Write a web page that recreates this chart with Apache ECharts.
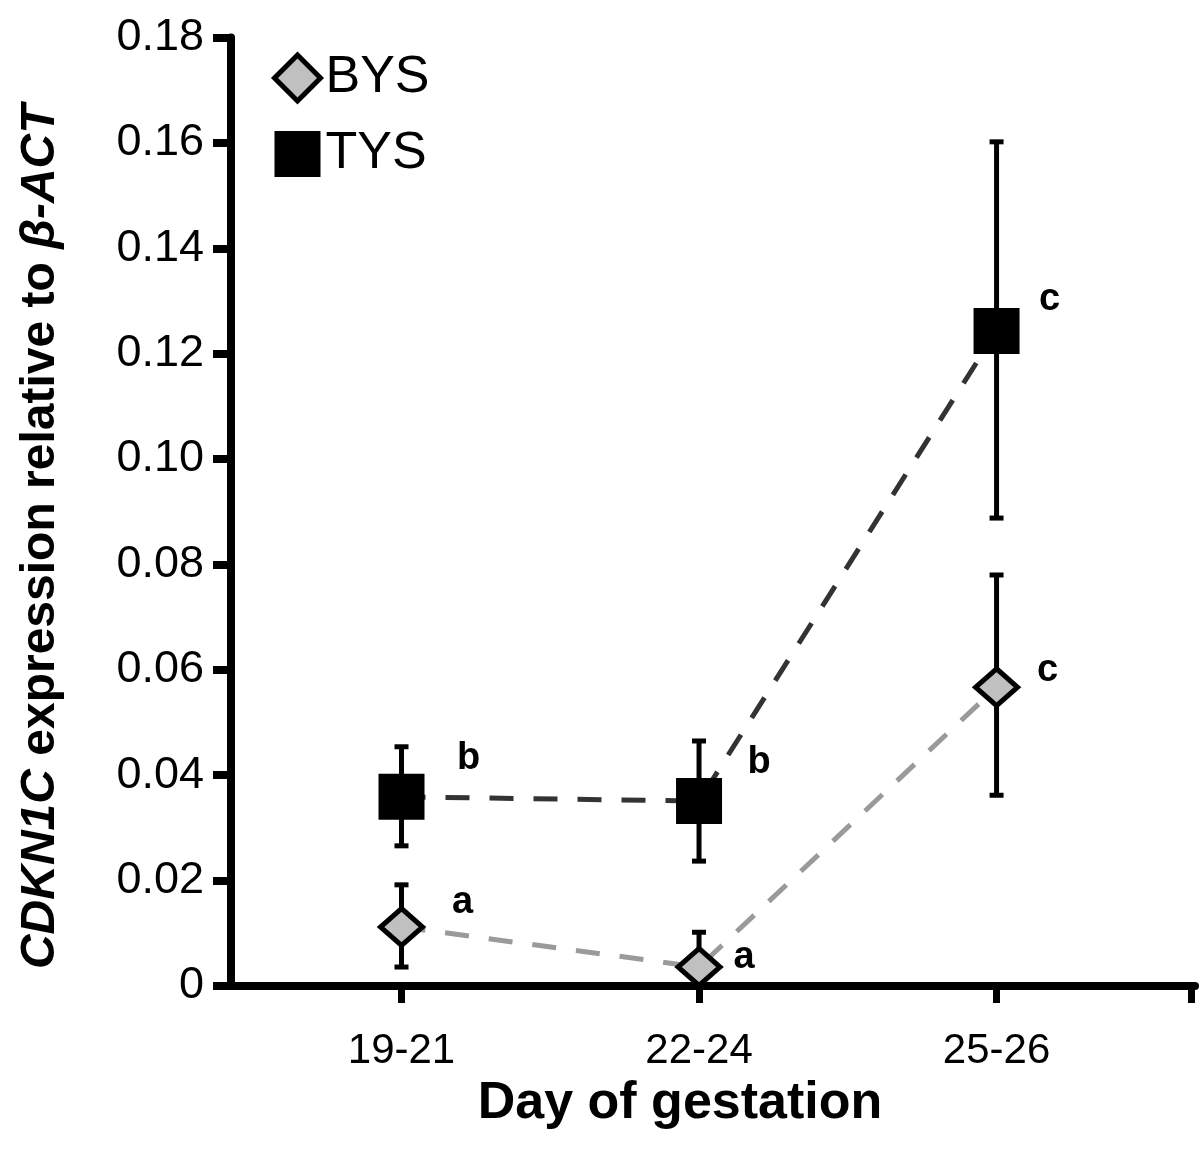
<!DOCTYPE html>
<html>
<head>
<meta charset="utf-8">
<script src="https://cdn.jsdelivr.net/npm/echarts@6/dist/echarts.min.js"></script>
<style>html,body{margin:0;padding:0;background:#fff;}#c{width:1200px;height:1150px;}</style>
</head>
<body>
<div id="c"></div>
<script>
const categories = ['19-21', '22-24', '25-26'];
const xPos = [1, 2, 3];
const bysMean = [0.0112, 0.0036, 0.0567];
const bysLow = [0.0036, 0.0000, 0.0362];
const bysHigh = [0.0192, 0.0102, 0.0780];
const tysMean = [0.0359, 0.0351, 0.1243];
const tysLow = [0.0266, 0.0237, 0.0888];
const tysHigh = [0.0454, 0.0465, 0.1602];
const bysLetters = ['a', 'a', 'c'];
const tysLetters = ['b', 'b', 'c'];

const FONT = 'Liberation Sans, Arial, sans-serif';
const bysOffsets = [[61, -24], [45, -10], [51, -17]];
const tysOffsets = [[67, -38], [60, -39], [53, -31]];

function pointData(means, letters, offsets) {
  return means.map((m, i) => ({
    value: [xPos[i], m],
    label: {
      show: true, formatter: letters[i], position: 'inside', offset: offsets[i],
      fontSize: 38, fontWeight: 'bold', color: '#000', fontFamily: FONT
    }
  }));
}
function barData(lows, highs) {
  return lows.map((l, i) => [xPos[i], l, highs[i]]);
}
function renderErr(params, api) {
  const x = api.value(0), lo = api.value(1), hi = api.value(2);
  const pLo = api.coord([x, lo]), pHi = api.coord([x, hi]);
  const hw = 7;
  const st = { stroke: '#000', lineWidth: 5 };
  return {
    type: 'group',
    children: [
      { type: 'line', shape: { x1: pLo[0], y1: pLo[1], x2: pHi[0], y2: pHi[1] }, style: st },
      { type: 'line', shape: { x1: pHi[0] - hw, y1: pHi[1], x2: pHi[0] + hw, y2: pHi[1] }, style: st },
      { type: 'line', shape: { x1: pLo[0] - hw, y1: pLo[1], x2: pLo[0] + hw, y2: pLo[1] }, style: st }
    ]
  };
}

const chart = echarts.init(document.getElementById('c'), null, { renderer: 'canvas' });
chart.setOption({
  animation: false,
  backgroundColor: '#fff',
  grid: { left: 231, right: 5, top: 37.5, bottom: 164, containLabel: false },
  legend: {
    left: 272, top: 52, orient: 'vertical', padding: 0,
    itemWidth: 46, itemHeight: 46, itemGap: 24, itemTextGap: 16,
    textStyle: { fontSize: 52, fontFamily: FONT, color: '#000' },
    selectedMode: false,
    data: [
      { name: 'BYS', icon: 'diamond', itemStyle: { color: '#c0c0c0', borderColor: '#000', borderWidth: 5 } },
      { name: 'TYS', icon: 'rect', itemStyle: { color: '#000', borderWidth: 0 } }
    ]
  },
  xAxis: {
    type: 'value', min: 0.4269, max: 3.667,
    splitLine: { show: false },
    axisLine: { onZero: false, lineStyle: { color: '#000', width: 8 } },
    axisTick: { show: true, length: 17, customValues: [1, 2, 3, 3.655], lineStyle: { color: '#000', width: 7 } },
    axisLabel: {
      customValues: [1, 2, 3], margin: 44, fontSize: 42, color: '#000', fontFamily: FONT,
      formatter: v => categories[xPos.indexOf(Math.round(v))]
    },
    name: 'Day of gestation', nameLocation: 'middle', nameGap: 92,
    nameTextStyle: { fontSize: 52, fontWeight: 'bold', color: '#000', fontFamily: FONT, padding: [0, 66, 0, 0] }
  },
  yAxis: {
    type: 'value', min: 0, max: 0.18, interval: 0.02,
    splitLine: { show: false },
    axisLine: { show: true, onZero: false, lineStyle: { color: '#000', width: 8 } },
    axisTick: { show: true, length: 18, lineStyle: { color: '#000', width: 8 } },
    axisLabel: {
      margin: 27, fontSize: 45, color: '#000', fontFamily: FONT,
      formatter: v => (v === 0 ? '0' : v.toFixed(2))
    },
    name: '{i|CDKN1C} expression relative to {i|β-ACT}',
    nameLocation: 'middle', nameRotate: 90, nameGap: 166,
    nameTextStyle: {
      fontSize: 48, fontWeight: 'bold', color: '#000', fontFamily: FONT, padding: [0, 50, 0, 0],
      rich: { i: { fontSize: 48, fontWeight: 'bold', fontStyle: 'italic', color: '#000', fontFamily: FONT } }
    }
  },
  series: [
    {
      name: 'BYS-err', type: 'custom', z: 2, renderItem: renderErr,
      data: barData(bysLow, bysHigh), silent: true
    },
    {
      name: 'TYS-err', type: 'custom', z: 2, renderItem: renderErr,
      data: barData(tysLow, tysHigh), silent: true
    },
    {
      name: 'BYS', type: 'line', z: 3,
      data: pointData(bysMean, bysLetters, bysOffsets),
      symbol: 'diamond', symbolSize: [42, 37], showSymbol: true,
      lineStyle: { color: '#9a9a9a', width: 5, type: [24, 20] },
      itemStyle: { color: '#c0c0c0', borderColor: '#000', borderWidth: 5 },
      emphasis: { disabled: true }
    },
    {
      name: 'TYS', type: 'line', z: 4,
      data: pointData(tysMean, tysLetters, tysOffsets),
      symbol: 'rect', symbolSize: 46, showSymbol: true,
      lineStyle: { color: '#333333', width: 5, type: [24, 20] },
      itemStyle: { color: '#000', borderWidth: 0 },
      emphasis: { disabled: true }
    }
  ]
});
</script>
</body>
</html>
